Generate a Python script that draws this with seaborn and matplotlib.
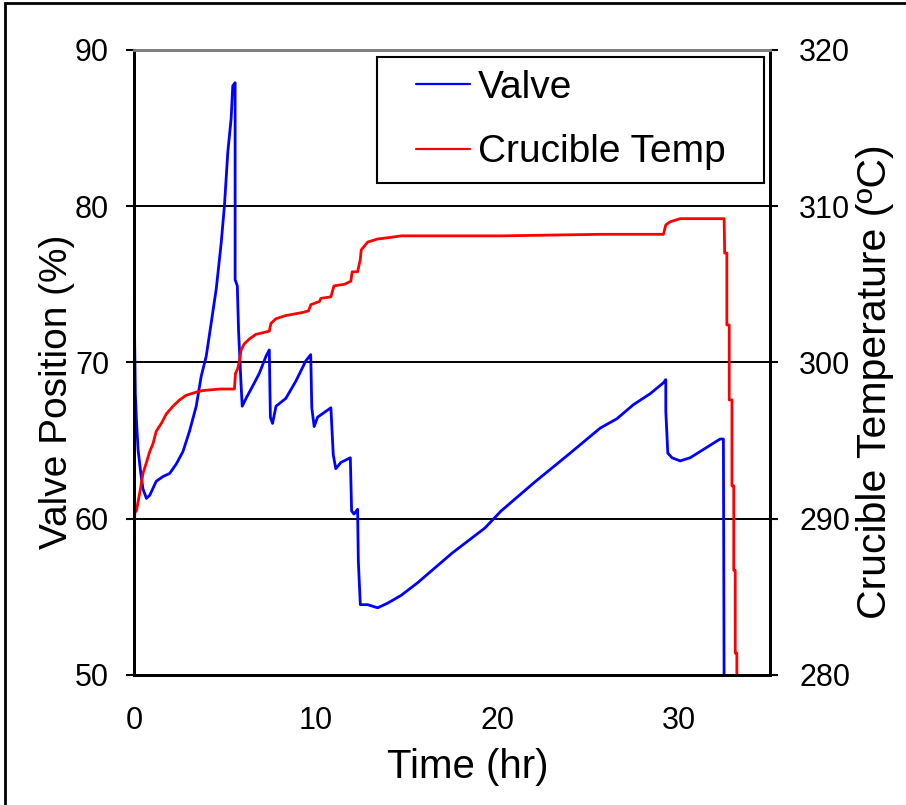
import matplotlib
matplotlib.use('Agg')
import matplotlib.pyplot as plt
import seaborn as sns
import pandas as pd
from matplotlib.patches import Rectangle
from matplotlib.legend_handler import HandlerLine2D

# Valve position (%) vs time (hr)
valve_time = [0, 0, 0.07, 0.13, 0.22, 0.37, 0.49, 0.68, 0.86, 1.22, 1.59, 1.96, 2.32, 2.69,
              3.05, 3.42, 3.69, 3.97, 4.24, 4.52, 4.79, 4.97, 5.16, 5.34, 5.43, 5.56, 5.56,
              5.68, 5.75, 5.89, 5.95, 6.16, 6.53, 6.89, 7.26, 7.44, 7.50, 7.62, 7.81, 8.35,
              8.90, 9.45, 9.72, 9.78, 9.91, 10.1, 10.83, 10.96, 11.1, 11.38, 11.9, 11.97,
              12.1, 12.3, 12.34, 12.45, 12.85, 13.4, 13.96, 14.7, 15.6, 16.5, 17.5, 18.4,
              19.3, 20.2, 22.0, 24.0, 25.65, 26.57, 27.48, 28.4, 29.13, 29.26, 29.26, 29.37,
              29.6, 30.05, 30.6, 31.15, 31.7, 32.25, 32.43, 32.47]
valve_pos = [50, 74.1, 68.0, 66.3, 64.4, 62.9, 61.9, 61.3, 61.5, 62.4, 62.7, 62.9, 63.5, 64.3,
             65.6, 67.2, 69.1, 70.4, 72.5, 74.7, 77.6, 80.0, 83.5, 85.6, 87.7, 87.9, 75.3,
             74.9, 72.0, 68.5, 67.2, 67.7, 68.5, 69.3, 70.4, 70.8, 66.5, 66.1, 67.2, 67.7,
             68.8, 70.1, 70.5, 67.1, 65.9, 66.5, 67.1, 64.1, 63.2, 63.6, 63.9, 60.5,
             60.3, 60.6, 57.3, 54.5, 54.5, 54.3, 54.6, 55.1, 55.9, 56.8, 57.8, 58.6,
             59.4, 60.5, 62.3, 64.2, 65.8, 66.4, 67.3, 68.0, 68.7, 68.9, 66.9, 64.2,
             63.9, 63.7, 63.9, 64.3, 64.7, 65.1, 65.1, 49]

# Crucible temperature (C) vs time (hr)
temp_time = [0, 0.04, 0.13, 0.22, 0.35, 0.49, 0.68, 0.86, 1.04, 1.22, 1.5, 1.77, 2.14, 2.5,
             2.87, 3.42, 3.78, 4.7, 5.52, 5.58, 5.70, 5.80, 5.89, 6.07, 6.34, 6.71, 7.08,
             7.44, 7.53, 7.81, 8.35, 9.27, 9.6, 9.73, 10.2, 10.28, 10.83, 11.0, 11.57, 11.93,
             12.0, 12.3, 12.45, 12.5, 12.85, 13.4, 14.1, 14.7, 20.2, 25.65, 29.13, 29.26,
             29.5, 30.05, 31.15, 32.47, 32.5, 32.62, 32.62, 32.75, 32.75, 32.9, 32.9, 33.0,
             33.0, 33.08, 33.08, 33.17, 33.17]
crucible_temp = [288.7, 290.4, 290.5, 291.1, 291.9, 292.9, 293.6, 294.3, 294.8, 295.6, 296.1,
                 296.7, 297.2, 297.6, 297.9, 298.1, 298.2, 298.3, 298.3, 299.3, 299.6, 300.1,
                 300.8, 301.2, 301.5, 301.8, 301.9, 302.0, 302.5, 302.8, 303.0, 303.2, 303.3,
                 303.7, 303.9, 304.1, 304.2, 304.9, 305.0, 305.2, 305.8, 305.8, 306.6, 307.2,
                 307.7, 307.9, 308.0, 308.1, 308.1, 308.2, 308.2, 308.8, 309.0, 309.2, 309.2,
                 309.2, 307.0, 307.0, 302.4, 302.4, 297.6, 297.6, 292.1, 292.1, 286.7, 286.7,
                 281.4, 281.4, 279]

x_ticks = [0, 10, 20, 30]
left_ticks = [50, 60, 70, 80, 90]
right_ticks = [280, 290, 300, 310, 320]


class ShortLineHandler(HandlerLine2D):
    """Legend line drawn only on the right part of the handle box."""
    def get_xdata(self, legend, xdescent, ydescent, width, height, fontsize):
        xdata = [-xdescent + 0.33 * width, -xdescent + width]
        return xdata, [-xdescent + 0.5 * width]


sns.set_style("white")
plt.rcParams['font.family'] = ['Liberation Sans', 'DejaVu Sans']
plt.rcParams['text.color'] = 'black'
plt.rcParams['axes.labelcolor'] = 'black'

df_valve = pd.DataFrame({'Time': valve_time, 'Valve': valve_pos})
df_temp = pd.DataFrame({'Time': temp_time, 'Temp': crucible_temp})

fig = plt.figure(figsize=(9.06, 8.05), dpi=100)
ax = fig.add_axes([0.148, 0.1615, 0.702, 0.7765])
ax2 = ax.twinx()

sns.lineplot(data=df_valve, x='Time', y='Valve', sort=False, estimator=None,
             color='#0000FF', linewidth=2.0, ax=ax, label='Valve', legend=False)
sns.lineplot(data=df_temp, x='Time', y='Temp', sort=False, estimator=None,
             color='#FF0000', linewidth=2.0, ax=ax2, label='Crucible Temp', legend=False)

ax.set_xlim(0, 35)
ax.set_ylim(50, 90)
ax2.set_ylim(280, 320)
ax.set_xticks(x_ticks)
ax.set_yticks(left_ticks)
ax2.set_yticks(right_ticks)

# horizontal gridlines (not at the top/bottom edges)
ax.grid(axis='y', color='black', linewidth=1.4)
for i, gl in enumerate(ax.get_ygridlines()):
    if i in (0, len(left_ticks) - 1):
        gl.set_visible(False)
ax.grid(axis='x', visible=False)
ax2.grid(False)

for a in (ax, ax2):
    for side in ('left', 'right', 'bottom'):
        a.spines[side].set_color('black')
        a.spines[side].set_linewidth(2)
    a.spines['top'].set_color('#808080')
    a.spines['top'].set_linewidth(2)
    a.tick_params(direction='out', length=6, width=1.5, labelsize=22, colors='black')
ax.tick_params(axis='y', pad=12)
ax.tick_params(axis='x', pad=16)
ax2.tick_params(axis='y', pad=15)

ax.set_xlabel('Time (hr)', fontsize=29)
ax.set_ylabel('Valve Position (%)', fontsize=28)
ax2.set_ylabel('Crucible Temperature (ºC)', fontsize=29.5)
ax.xaxis.set_label_coords(0.524, -0.117)
ax.yaxis.set_label_coords(-0.093, 0.453)
ax2.yaxis.set_label_coords(1.135, 0.469)

h1, l1 = ax.get_legend_handles_labels()
h2, l2 = ax2.get_legend_handles_labels()
leg = ax2.legend(h1 + h2, l1 + l2, loc='upper left', bbox_to_anchor=(0.382, 0.789, 0.6085, 0.2),
                 mode='expand', fontsize=28, frameon=True, fancybox=False, edgecolor='black',
                 framealpha=1, handlelength=2.07, handletextpad=0.2, borderpad=0.33,
                 labelspacing=0.74, borderaxespad=0,
                 handler_map={h: ShortLineHandler() for h in h1 + h2})
leg.get_frame().set_linewidth(1.5)
for line in leg.get_lines():
    line.set_linewidth(1.6)

# outer frame of the figure
fig.patches.append(Rectangle((0.006, -0.1), 1.2, 1.0963, transform=fig.transFigure,
                             fill=False, edgecolor='black', linewidth=2))

fig.savefig('out.png', dpi=100)
